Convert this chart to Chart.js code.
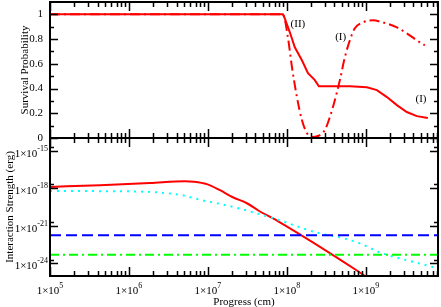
<!DOCTYPE html>
<html>
<head>
<meta charset="utf-8">
<script src="https://cdn.jsdelivr.net/npm/chart.js@4.4.1/dist/chart.umd.min.js"></script>
<style>
html, body { margin: 0; padding: 0; background: #fff; }
#wrap { position: relative; width: 441px; height: 307px; }
#wrap canvas { position: absolute; left: 0; top: 0; }
</style>
</head>
<body>
<div id="wrap">
  <canvas id="topChart" width="441" height="307"></canvas>
  <canvas id="bottomChart" width="441" height="307"></canvas>
</div>
<script>
// --- data ---
var progressII = [1e5, 8.9e7, 9.4e7, 1.09e8, 1.26e8, 1.55e8, 1.85e8, 2.26e8, 2.54e8, 6.27e8, 1.03e9, 1.38e9, 1.85e9, 2.47e9, 3.30e9, 4.42e9, 6.10e9];
var survivalII = [1.0, 1.0, 0.968, 0.855, 0.734, 0.629, 0.524, 0.468, 0.419, 0.419, 0.411, 0.387, 0.331, 0.266, 0.21, 0.177, 0.161];

var progressI = [1e5, 8.9e7, 1.03e8, 1.16e8, 1.34e8, 1.55e8, 1.79e8, 2.07e8, 2.47e8, 3.03e8, 3.50e8, 4.05e8, 4.69e8, 5.42e8, 6.27e8, 7.26e8, 9.16e8, 1.23e9, 1.64e9, 2.47e9, 3.30e9, 4.42e9, 5.58e9];
var survivalI = [1.0, 1.0, 0.815, 0.573, 0.331, 0.145, 0.04, 0.008, 0.016, 0.065, 0.169, 0.306, 0.468, 0.653, 0.79, 0.887, 0.935, 0.952, 0.935, 0.895, 0.847, 0.79, 0.75];

var progressRed = [1e5, 4.3e5, 1.85e6, 5.1e6, 6.6e6, 9.7e6, 1.42e7, 2.07e7, 3.12e7, 4.3e7, 8.15e7, 7.7e8, 1e9];
var strengthRed = [1.26e-18, 1.74e-18, 2.6e-18, 3.6e-18, 3.3e-18, 2.1e-18, 6.9e-19, 1.9e-19, 6.3e-20, 1.74e-20, 1.9e-21, 2.75e-25, 9e-26];

var progressCyan = [1e5, 4.3e5, 1.85e6, 4.7e6, 8.4e6, 1.5e7, 2.7e7, 8.15e7, 1.46e8, 2.6e8, 4.7e8, 8.4e8, 1.5e9, 2.7e9, 4.8e9, 8.2e9];
var strengthCyan = [6.0e-19, 5.8e-19, 5.0e-19, 2.75e-19, 1.1e-19, 5.2e-20, 2.1e-20, 2.75e-21, 7.6e-22, 2.5e-22, 1.2e-22, 4e-23, 7.6e-24, 2.5e-24, 1e-24, 4e-25];

var progressFlat = [1e5, 8.2e9];
var strengthBlue = [1.74e-22, 1.74e-22];
var strengthGreen = [5e-24, 5e-24];

// --- ticks and labels ---
var progressTicks = [1e5, 1e6, 1e7, 1e8, 1e9];
var progressExp = ['5', '6', '7', '8', '9'];
var survivalTicks = [0, 0.2, 0.4, 0.6, 0.8, 1];
var survivalLabels = ['0', '0.2', '0.4', '0.6', '0.8', '1'];
var survivalMinor = [0.1, 0.3, 0.5, 0.7, 0.9];
var strengthTicks = [1e-24, 1e-21, 1e-18, 1e-15];
var strengthExp = ['-24', '-21', '-18', '-15'];
var strengthMinor = [2e-24, 2e-21, 2e-18, 2e-15];

var notes = [
  { text: '(II)', x: 1.38e8, y: 0.92 },
  { text: '(I)', x: 4.8e8, y: 0.82 },
  { text: '(I)', x: 5.0e9, y: 0.315 }
];

var SERIF = '"Liberation Serif", "DejaVu Serif", serif';

function pairs(xs, ys) {
  var out = [];
  for (var i = 0; i < xs.length; i++) out.push({ x: xs[i], y: ys[i] });
  return out;
}

function drawPower(ctx, x, y, exp, align) {
  // "1×10" with a raised exponent; align 'center' or 'right'
  ctx.font = '11px ' + SERIF;
  var wb = ctx.measureText('1\u00d710').width;
  ctx.font = '8px ' + SERIF;
  var we = ctx.measureText(exp).width;
  var x0 = align === 'right' ? x - wb - we : x - (wb + we) / 2;
  ctx.textAlign = 'left';
  ctx.textBaseline = 'alphabetic';
  ctx.font = '11px ' + SERIF;
  ctx.fillText('1\u00d710', x0, y);
  ctx.font = '8px ' + SERIF;
  ctx.fillText(exp, x0 + wb, y - 6);
}

var framePlugin = {
  id: 'frame',
  afterDatasetsDraw: function (chart, args, opts) {
    var ctx = chart.ctx;
    var a = chart.chartArea;
    var xs = chart.scales.x;
    var ys = chart.scales.y;
    var i, px, py, e, m, v, len;

    ctx.save();
    ctx.strokeStyle = '#000';
    ctx.fillStyle = '#000';

    // x ticks, top and bottom, pointing in
    ctx.lineWidth = 1.5;
    ctx.beginPath();
    for (e = 5; e <= 9; e++) {
      for (m = 1; m <= 9; m++) {
        v = m * Math.pow(10, e);
        if (v > xs.max) break;
        px = Math.round(xs.getPixelForValue(v)) + 0.5;
        len = m === 1 ? 9 : 5;
        ctx.moveTo(px, a.top); ctx.lineTo(px, a.top + len);
        ctx.moveTo(px, a.bottom); ctx.lineTo(px, a.bottom - len);
      }
    }
    // y ticks, left and right
    for (i = 0; i < opts.yMajor.length; i++) {
      py = Math.round(ys.getPixelForValue(opts.yMajor[i])) + 0.5;
      ctx.moveTo(a.left, py); ctx.lineTo(a.left + 8, py);
      ctx.moveTo(a.right, py); ctx.lineTo(a.right - 8, py);
    }
    for (i = 0; i < opts.yMinor.length; i++) {
      py = Math.round(ys.getPixelForValue(opts.yMinor[i])) + 0.5;
      ctx.moveTo(a.left, py); ctx.lineTo(a.left + 4, py);
      ctx.moveTo(a.right, py); ctx.lineTo(a.right - 4, py);
    }
    ctx.stroke();

    // frame
    ctx.lineWidth = 2;
    ctx.strokeRect(a.left, a.top, a.right - a.left, a.bottom - a.top);

    // y tick labels
    for (i = 0; i < opts.yMajor.length; i++) {
      py = ys.getPixelForValue(opts.yMajor[i]);
      if (opts.yExp) {
        drawPower(ctx, a.left - 2, py + 6, opts.yExp[i], 'right');
      } else {
        ctx.font = '11px ' + SERIF;
        ctx.textAlign = 'right';
        ctx.textBaseline = 'middle';
        ctx.fillText(opts.yLabels[i], a.left - 7, py);
      }
    }

    // x tick labels
    if (opts.xLabels) {
      for (i = 0; i < progressTicks.length; i++) {
        px = xs.getPixelForValue(progressTicks[i]);
        drawPower(ctx, px, a.bottom + 18, progressExp[i], 'center');
      }
      ctx.font = '11px ' + SERIF;
      ctx.textAlign = 'center';
      ctx.textBaseline = 'alphabetic';
      ctx.fillText('Progress (cm)', (a.left + a.right) / 2, a.bottom + 29);
    }

    // y axis title
    ctx.save();
    ctx.translate(opts.titleX, (a.top + a.bottom) / 2);
    ctx.rotate(-Math.PI / 2);
    ctx.font = '11px ' + SERIF;
    ctx.textAlign = 'center';
    ctx.textBaseline = 'middle';
    ctx.fillText(opts.title, 0, 0);
    ctx.restore();

    // curve labels
    if (opts.notes) {
      ctx.font = '11px ' + SERIF;
      ctx.textAlign = 'center';
      ctx.textBaseline = 'middle';
      for (i = 0; i < opts.notes.length; i++) {
        ctx.fillText(opts.notes[i].text, xs.getPixelForValue(opts.notes[i].x), ys.getPixelForValue(opts.notes[i].y));
      }
    }
    ctx.restore();
  }
};

var baseOptions = function (padding, yScale, frame) {
  return {
    responsive: false,
    animation: false,
    events: [],
    layout: { padding: padding },
    scales: {
      x: { type: 'logarithmic', min: 1e5, max: 8.2e9, display: false },
      y: yScale
    },
    plugins: { legend: { display: false }, tooltip: { enabled: false }, frame: frame }
  };
};

new Chart(document.getElementById('topChart'), {
  type: 'line',
  data: {
    datasets: [
      { data: pairs(progressI, survivalI), borderColor: '#ff0000', borderWidth: 2, borderDash: [10, 4, 2, 4], pointRadius: 0, cubicInterpolationMode: 'monotone', fill: false },
      { data: pairs(progressII, survivalII), borderColor: '#ff0000', borderWidth: 2, pointRadius: 0, tension: 0, fill: false }
    ]
  },
  options: baseOptions(
    { left: 50, right: 3, top: 2, bottom: 169 },
    { type: 'linear', min: 0, max: 1.1, display: false },
    { yMajor: survivalTicks, yMinor: survivalMinor, yLabels: survivalLabels, title: 'Survival Probability', titleX: 25, notes: notes }
  ),
  plugins: [framePlugin]
});

new Chart(document.getElementById('bottomChart'), {
  type: 'line',
  data: {
    datasets: [
      { data: pairs(progressFlat, strengthBlue), borderColor: '#0000ff', borderWidth: 2, borderDash: [11, 5], pointRadius: 0, fill: false },
      { data: pairs(progressFlat, strengthGreen), borderColor: '#00ff00', borderWidth: 2, borderDash: [9, 4, 2, 4], pointRadius: 0, fill: false },
      { data: pairs(progressCyan, strengthCyan), borderColor: '#00ffff', borderWidth: 2, borderDash: [2, 5], pointRadius: 0, cubicInterpolationMode: 'monotone', fill: false },
      { data: pairs(progressRed, strengthRed), borderColor: '#ff0000', borderWidth: 2, pointRadius: 0, cubicInterpolationMode: 'monotone', fill: false }
    ]
  },
  options: baseOptions(
    { left: 50, right: 3, top: 138, bottom: 31 },
    { type: 'logarithmic', min: 1e-25, max: 1e-14, display: false },
    { yMajor: strengthTicks, yMinor: strengthMinor, yExp: strengthExp, title: 'Interaction Strength (erg)', titleX: 10, xLabels: true }
  ),
  plugins: [framePlugin]
});
</script>
</body>
</html>
